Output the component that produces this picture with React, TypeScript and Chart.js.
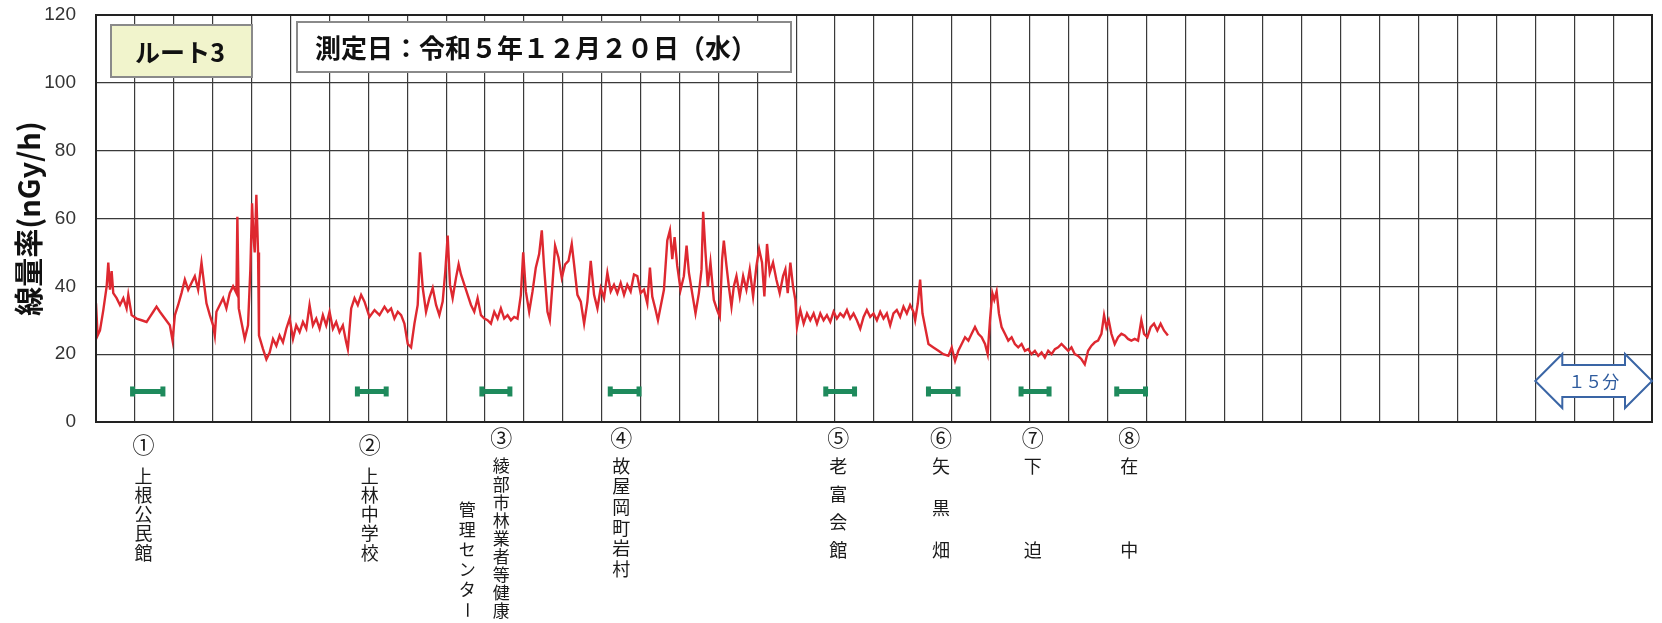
import React, { useEffect, useRef } from 'react';
import { Chart, registerables } from 'chart.js';

Chart.register(...registerables);

// ---- data ----
const xMaxMinutes = 200;
const xStepMinutes = 5;
const yMaxValue = 120;
const yStepValue = 20;

const yTitle = '線量率(nGy/h)';
const routeLabel = 'ルート3';
const dateLabel = '測定日：令和５年１２月２０日（水）';
const scaleLabel = '１５分';
const scaleMinutes = 15;

const traceMinutes = [
  0, 0.21, 0.51, 0.94, 1.37, 1.58, 1.8, 2.01, 2.22, 2.65, 3.08, 3.51, 3.93, 4.15, 4.58, 5.22, 5.86, 6.5, 6.93, 7.36,
  7.78, 8.21, 8.85, 9.49, 9.84, 10.14, 10.56, 10.99, 11.42, 11.85, 12.27, 12.7, 13.13, 13.56, 13.77, 14.2, 14.63, 15.05, 15.27, 15.48,
  15.91, 16.34, 16.76, 17.19, 17.62, 18.05, 18.17, 18.35, 18.69, 19.12, 19.54, 19.84, 20.06, 20.23, 20.4, 20.61, 20.83, 20.95, 21.47, 21.9,
  22.32, 22.75, 23.18, 23.6, 24.03, 24.46, 24.89, 25.32, 25.74, 26.17, 26.6, 27.03, 27.45, 27.88, 28.31, 28.74, 29.16, 29.59, 30.02, 30.45,
  30.87, 31.3, 31.73, 32.16, 32.37, 32.8, 33.23, 33.65, 34.08, 34.51, 35.15, 35.8, 36.44, 37.08, 37.5, 37.93, 38.36, 38.79, 39.22, 39.64,
  40.07, 40.5, 40.93, 41.35, 41.65, 42, 42.42, 42.85, 43.28, 43.71, 44.13, 44.56, 44.9, 45.2, 45.5, 45.84, 46.27, 46.61, 46.91, 47.34,
  47.77, 48.2, 48.62, 49.05, 49.48, 49.91, 50.33, 50.76, 51.19, 51.62, 52.04, 52.47, 52.9, 53.33, 53.75, 54.18, 54.61, 54.91, 55.25, 55.68,
  56.11, 56.53, 56.96, 57.3, 57.6, 58.03, 58.33, 58.67, 59.01, 59.44, 59.87, 60.3, 60.73, 61.15, 61.45, 61.88, 62.31, 62.74, 63.16, 63.59,
  64.02, 64.45, 64.87, 65.3, 65.73, 66.16, 66.58, 67.01, 67.44, 67.87, 68.29, 68.72, 69.15, 69.58, 70.0, 70.43, 70.86, 71.2, 71.5, 71.93,
  72.23, 72.57, 73, 73.43, 73.77, 74.07, 74.37, 74.71, 75.14, 75.56, 75.91, 76.21, 76.63, 77.06, 77.49, 77.83, 78.04, 78.34, 78.64, 78.98,
  79.41, 79.84, 80.18, 80.48, 80.7, 81.04, 81.34, 81.68, 81.98, 82.32, 82.75, 83.18, 83.6, 84.03, 84.46, 84.89, 85.23, 85.61, 85.91, 86.25,
  86.6, 87.02, 87.45, 87.88, 88.31, 88.61, 88.91, 89.25, 89.59, 89.89, 90.1, 90.53, 90.96, 91.39, 91.81, 92.24, 92.67, 93.1, 93.52, 93.95,
  94.38, 94.81, 95.23, 95.66, 96.09, 96.52, 96.94, 97.37, 97.8, 98.23, 98.66, 99.08, 99.51, 99.94, 100.37, 100.8, 101.22, 101.65, 102.08, 102.5,
  102.93, 103.36, 103.79, 104.22, 104.64, 105.07, 105.29, 105.63, 105.93, 106.23, 106.57, 107, 107.64, 108.28, 108.92, 109.56, 109.99, 110.42, 110.84, 111.27,
  111.7, 112.13, 112.55, 112.98, 113.41, 113.84, 114.27, 114.61, 114.91, 115.21, 115.46, 115.76, 116.06, 116.4, 116.83, 117.26, 117.69, 118.11, 118.54, 118.97,
  119.4, 119.82, 120.25, 120.68, 121.11, 121.54, 121.96, 122.39, 122.82, 123.25, 123.67, 124.1, 124.53, 124.96, 125.38, 125.81, 126.24, 126.67, 127.09, 127.52,
  127.95, 128.38, 128.8, 129.23, 129.57, 129.87, 130.17, 130.51, 130.94, 131.37, 131.8, 132.23, 132.65, 133.08, 133.51, 133.94, 134.36, 134.71, 135.13, 135.56,
  135.99, 136.42, 136.84, 137.27, 137.78,
];

const traceValues = [
  35, 25.5, 27, 33, 40, 47, 39, 44.5, 38, 36.5, 34.5, 36.5, 33.5, 37.5, 31.5, 30.5, 30, 29.5, 31, 32.5,
  34, 32.5, 30.5, 28.5, 24, 31.5, 34.5, 38, 42, 39, 41, 43, 39, 47, 43, 35, 31.5, 28.5, 25.5, 32.5,
  34.5, 36.5, 33.5, 38, 40, 38, 60.5, 33.5, 29.5, 24.5, 28.5, 45, 64.5, 55, 50, 67, 50, 25.5, 21.5, 18.5,
  20.5, 24.5, 22.5, 25.5, 23.5, 27.5, 30.5, 24.5, 28.5, 26.5, 29.5, 27.5, 34.5, 28.5, 30.5, 27.5, 31.5, 28.5, 32.5, 27.5,
  29.5, 26.5, 28.5, 23.5, 21.5, 33.5, 36.5, 34.5, 37.5, 35.5, 31, 33, 31.5, 34, 32.5, 33.5, 30.5, 32.5, 31.5, 29,
  23, 22, 29, 34.5, 50, 39.5, 32.5, 36.5, 39.5, 34.5, 31.5, 35.5, 44.5, 55, 40.5, 36.5, 42.5, 46.5, 43.5, 40.5,
  37.5, 34.5, 32.5, 36.5, 31.5, 30.5, 30, 29, 32.5, 30.5, 33.5, 30.5, 31.5, 30, 31, 30.5, 37.5, 50, 38.5, 32.5,
  38.5, 45.5, 49.5, 56.5, 45.5, 32.5, 30, 40.5, 52, 48.5, 42.5, 46.5, 47.5, 52.5, 46.5, 37.5, 35.5, 29, 35.5, 47.5,
  37.5, 33.5, 39.5, 36.5, 44, 38.5, 40.5, 38, 41, 37.5, 40.5, 38.5, 43.5, 43, 38, 39, 35, 45.5, 37, 33,
  30, 34, 39, 53.5, 56.5, 48, 54.5, 46, 39, 43, 52, 44, 38, 32, 38, 45, 62, 50, 40, 47,
  36, 33, 31, 48, 53.5, 46, 40, 34, 40, 43, 37, 43, 39, 45, 37, 46, 51, 47, 37, 52.5,
  44, 47, 42, 38, 43, 45, 38, 47, 40, 36, 28, 33, 29, 32, 30, 32, 29, 32, 30, 31.5,
  29.5, 32.5, 30.5, 32, 31, 33, 30.5, 32, 30, 27.5, 31, 33, 31, 32, 30, 32.5, 30.5, 32, 28.5, 32,
  33, 31, 34, 32, 34.5, 32.5, 30, 35, 42, 32, 28, 23, 22, 21, 20, 19.5, 22, 18, 21, 23,
  25, 24, 26, 28, 26, 25, 23, 20, 30, 38, 36, 38.5, 32, 28, 26, 24, 25, 23, 22, 23,
  21, 21.5, 20, 21, 19.5, 20.5, 19, 21, 20, 21.5, 22, 23, 22, 21, 22, 20, 19.5, 18.5, 17, 21,
  22.5, 23.5, 24, 26, 31.5, 28, 30, 26, 23, 25, 26, 25.5, 24.5, 24, 24.5, 24, 30, 26, 25, 28,
  29, 27, 29, 27, 25.5,
];

const markerStarts = [4.7, 33.6, 49.6, 66.1, 93.8, 107.0, 118.9, 131.2];
const markerEnds = [8.6, 37.3, 53.2, 69.8, 97.5, 110.8, 122.5, 134.9];
const markerLevel = 9;

const stationMinutes = [6.1, 35.2, 52.1, 67.5, 95.4, 108.6, 120.4, 132.8];
const stationNumbers = ['①', '②', '③', '④', '⑤', '⑥', '⑦', '⑧'];
const stationNames = [
  ['上根公民館'],
  ['上林中学校'],
  ['綾部市林業者等健康', '管理センター'],
  ['故屋岡町岩村'],
  ['老富会館'],
  ['矢黒畑'],
  ['下迫'],
  ['在中'],
];

// ---- styling ----
const CJK = '"Noto Sans CJK JP", "Noto Sans", sans-serif';
const RED = '#DE2830';
const GREEN = '#1E8A5C';
const GRID = '#3a3a3a';
const ARROW_BLUE = '#3A65A5';

const annotationPlugin = {
  id: 'annotations',
  afterDraw(chart: any) {
    const { ctx, chartArea: ca, scales } = chart;
    const xs = scales.x;
    ctx.save();

    // plot border
    ctx.strokeStyle = '#222';
    ctx.lineWidth = 2;
    ctx.strokeRect(ca.left, ca.top, ca.right - ca.left, ca.bottom - ca.top);

    // route box
    ctx.fillStyle = '#F1F4CC';
    ctx.fillRect(ca.left + 15, ca.top + 10, 141, 52);
    ctx.strokeStyle = '#8a8a8a';
    ctx.lineWidth = 2;
    ctx.strokeRect(ca.left + 15, ca.top + 10, 141, 52);
    ctx.fillStyle = '#111';
    ctx.font = `bold 25px ${CJK}`;
    ctx.textAlign = 'center';
    ctx.textBaseline = 'middle';
    ctx.fillText(routeLabel, ca.left + 84, ca.top + 37);

    // date box
    ctx.fillStyle = '#ffffff';
    ctx.fillRect(ca.left + 201, ca.top + 7, 494, 50);
    ctx.strokeStyle = '#8a8a8a';
    ctx.strokeRect(ca.left + 201, ca.top + 7, 494, 50);
    ctx.fillStyle = '#111';
    ctx.font = `bold 26px ${CJK}`;
    ctx.textAlign = 'left';
    ctx.fillText(dateLabel, ca.left + 219, ca.top + 33);

    // 15 min double arrow
    const x2 = xs.getPixelForValue(xMaxMinutes);
    const x1 = xs.getPixelForValue(xMaxMinutes - scaleMinutes);
    const yT = ca.bottom - 68;
    const yB = ca.bottom - 14;
    const yc = (yT + yB) / 2;
    const sT = ca.bottom - 57;
    const sB = ca.bottom - 25;
    const h = 27;
    ctx.beginPath();
    ctx.moveTo(x1, yc);
    ctx.lineTo(x1 + h, yT);
    ctx.lineTo(x1 + h, sT);
    ctx.lineTo(x2 - h, sT);
    ctx.lineTo(x2 - h, yT);
    ctx.lineTo(x2, yc);
    ctx.lineTo(x2 - h, yB);
    ctx.lineTo(x2 - h, sB);
    ctx.lineTo(x1 + h, sB);
    ctx.lineTo(x1 + h, yB);
    ctx.closePath();
    ctx.fillStyle = '#ffffff';
    ctx.fill();
    ctx.strokeStyle = ARROW_BLUE;
    ctx.lineWidth = 2;
    ctx.stroke();
    ctx.fillStyle = '#2F5C9E';
    ctx.font = `17px ${CJK}`;
    ctx.textAlign = 'center';
    ctx.fillText(scaleLabel, (x1 + x2) / 2, yc + 1);

    // station labels (vertical text)
    const drawChar = (ch: string, x: number, y: number) => {
      if (ch === 'ー') {
        ctx.save();
        ctx.translate(x, y);
        ctx.rotate(Math.PI / 2);
        ctx.fillText(ch, 0, 0);
        ctx.restore();
      } else {
        ctx.fillText(ch, x, y);
      }
    };
    ctx.fillStyle = '#1a1a1a';
    ctx.textAlign = 'center';
    ctx.textBaseline = 'middle';
    const b = ca.bottom;
    const pitches = [19.2, 19.2, 18.1, 20.6];
    stationMinutes.forEach((m, i) => {
      const x = xs.getPixelForValue(m);
      ctx.font = `22px ${CJK}`;
      ctx.fillText(stationNumbers[i], x, b + (i < 2 ? 23 : 16));
      const cols = stationNames[i];
      if (i < 4) {
        ctx.font = i === 2 ? `17px ${CJK}` : `18px ${CJK}`;
        const start = b + (i < 2 ? 54 : 44);
        const chars = Array.from(cols[0]);
        chars.forEach((c, k) => drawChar(c, x, start + k * pitches[i]));
        if (cols.length > 1) {
          const chars2 = Array.from(cols[1]);
          chars2.forEach((c, k) => drawChar(c, x - 34, b + 88 + k * 20));
        }
      } else {
        ctx.font = `18px ${CJK}`;
        const chars = Array.from(cols[0]);
        const top = b + 44;
        const bottom = b + 128;
        chars.forEach((c, k) => {
          const y = chars.length > 1 ? top + (k * (bottom - top)) / (chars.length - 1) : top;
          drawChar(c, x, y);
        });
      }
    });

    ctx.restore();
  },
};

export default function App() {
  const ref = useRef<HTMLCanvasElement | null>(null);

  useEffect(() => {
    if (!ref.current) return;
    const traceData = traceMinutes.map((m, i) => ({ x: m, y: traceValues[i] }));
    const markerSets = markerStarts.map((s, i) => ({
      data: [
        { x: s, y: markerLevel },
        { x: markerEnds[i], y: markerLevel },
      ],
      showLine: true,
      borderColor: GREEN,
      borderWidth: 5,
      pointStyle: 'line',
      pointRotation: 90,
      pointRadius: 5,
      pointBorderWidth: 5,
      pointBorderColor: GREEN,
      pointBackgroundColor: GREEN,
    }));

    const chart = new Chart(ref.current, {
      type: 'scatter',
      data: {
        datasets: [
          {
            data: traceData,
            showLine: true,
            borderColor: RED,
            borderWidth: 2.4,
            pointRadius: 0,
            tension: 0,
          },
          ...markerSets,
        ] as any,
      },
      options: {
        animation: false,
        responsive: false,
        maintainAspectRatio: false,
        layout: { padding: { left: 0, right: 5, top: 15, bottom: 0 } },
        plugins: { legend: { display: false }, tooltip: { enabled: false } },
        scales: {
          x: {
            type: 'linear',
            min: 0,
            max: xMaxMinutes,
            ticks: { display: false, stepSize: xStepMinutes, autoSkip: false },
            grid: { color: GRID, lineWidth: 1.2, drawTicks: false },
            border: { display: false },
            afterFit(s: any) {
              s.height = 201;
              s.paddingLeft = 0;
              s.paddingRight = 0;
            },
          },
          y: {
            min: 0,
            max: yMaxValue,
            ticks: {
              stepSize: yStepValue,
              padding: 20,
              color: '#333',
              font: { family: '"Liberation Sans", Arial, sans-serif', size: 19 },
            },
            grid: { color: GRID, lineWidth: 1.2, drawTicks: false },
            border: { display: false },
            title: {
              display: true,
              text: yTitle,
              color: '#111',
              font: { family: CJK, size: 29, weight: 'bold' },
              padding: { top: 12, bottom: 0 },
            },
            afterFit(s: any) {
              s.width = 96;
              s.paddingTop = 0;
              s.paddingBottom = 0;
            },
          },
        },
      } as any,
      plugins: [annotationPlugin],
    });
    return () => chart.destroy();
  }, []);

  return (
    <div style={{ position: 'absolute', left: 0, top: 0, width: 1662, height: 623, background: '#fff' }}>
      <canvas ref={ref} width={1662} height={623} style={{ display: 'block' }} />
    </div>
  );
}
